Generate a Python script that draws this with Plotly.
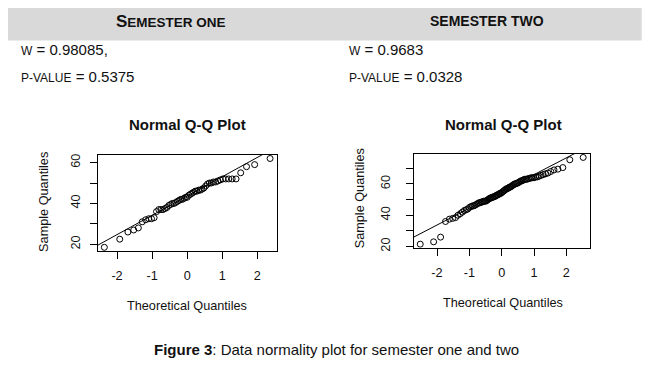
import plotly.graph_objects as go
import numpy as np
from statistics import NormalDist

# ---- data (sorted sample values) ----
sem1_values = [18.5, 22.5, 26, 27, 28, 31, 32, 32.5, 32.5, 33,
               36, 37, 37, 37, 37.5, 38, 39, 39.5, 40, 40,
               40.5, 41, 41.5, 42, 42, 42.5, 43, 43, 44, 44.5,
               45, 45.5, 46, 46, 46.5, 46.5, 47, 47.5, 48.5, 49.5,
               50, 50, 50.5, 50.5, 51, 51.5, 52, 52, 52, 52,
               52, 55, 58, 59, 62]
sem2_values = [21.5, 23, 26, 36, 37.5, 38, 38.5, 40, 41, 42,
               43, 43.5, 44, 45, 45.5, 46, 46, 46.5, 47, 47.5,
               48, 48, 48.5, 48.5, 49, 49, 49, 49.5, 50, 50.5,
               51, 51, 51.5, 51.5, 52, 52, 52.5, 53, 53, 53.5,
               54, 54, 54.5, 55, 55.5, 56, 56.5, 57, 57, 57.5,
               58, 58, 58.5, 59, 59.5, 60, 60, 60.5, 60.5, 61,
               61.5, 62, 62, 62.5, 63, 63, 63, 63.5, 63.5, 64,
               64, 64, 64.5, 64.5, 65, 65.5, 66, 66.5, 67, 68,
               69, 69.5, 70.5, 75.5, 77]

header_left = "<span style='font-size:17px'>S</span>EMESTER ONE"
header_right = "SEMESTER TWO"
w_left, p_left = "0.98085,", "0.5375"
w_right, p_right = "0.9683", "0.0328"
plot_title = "Normal Q-Q Plot"
x_title = "Theoretical Quantiles"
y_title = "Sample Quantiles"
caption = "<b>Figure 3</b>: Data normality plot for semester one and two"
x_ticks = [-2, -1, 0, 1, 2]
y_ticks_left = [20, 30, 40, 50, 60]
y_ticks_right = [20, 30, 40, 50, 60, 70]

# page body has an 8px margin: figure is placed at (8, 8) in the window
OFF = 8
W, H = 656 - OFF, 368 - OFF
FONT = "Liberation Sans, Arial, sans-serif"
nd = NormalDist()


def qq(values):
    v = np.sort(np.asarray(values, float))
    n = len(v)
    a = 3 / 8 if n <= 10 else 0.5
    p = (np.arange(1, n + 1) - a) / (n + 1 - 2 * a)
    t = np.array([nd.inv_cdf(pi) for pi in p])
    q1, q3 = np.percentile(v, [25, 75])
    z1, z3 = nd.inv_cdf(0.25), nd.inv_cdf(0.75)
    slope = (q3 - q1) / (z3 - z1)
    inter = q1 - slope * z1
    return t, v, slope, inter


def rrange(arr):
    lo, hi = float(np.min(arr)), float(np.max(arr))
    d = (hi - lo) * 0.04
    return [lo - d, hi + d]


def px_x(p):
    return (p - OFF) / W


def px_y(p):
    return 1 - (p - OFF) / H


fig = go.Figure()

panels = [
    dict(vals=sem1_values, xa="x", ya="y", dom_x=(97.7, 276.7), dom_y=(156, 253.3),
         yt=y_ticks_left, ystand=5),
    dict(vals=sem2_values, xa="x2", ya="y2", dom_x=(413.7, 589.7), dom_y=(155, 250),
         yt=y_ticks_right, ystand=11),
]

layout_axes = {}
for i, pn in enumerate(panels):
    t, v, slope, inter = qq(pn["vals"])
    xr = rrange(t)
    yr = rrange(v)
    fig.add_trace(go.Scatter(x=t, y=v, xaxis=pn["xa"], yaxis=pn["ya"], mode="markers",
                             marker=dict(symbol="circle-open", size=6, color="black",
                                         line=dict(width=1, color="black")),
                             showlegend=False, hoverinfo="skip"))
    lx = np.array(xr)
    fig.add_trace(go.Scatter(x=lx, y=inter + slope * lx, xaxis=pn["xa"], yaxis=pn["ya"],
                             mode="lines", line=dict(color="black", width=1),
                             showlegend=False, hoverinfo="skip"))
    sfx = "" if i == 0 else str(i + 1)
    layout_axes["xaxis" + sfx] = dict(
        domain=[px_x(pn["dom_x"][0]), px_x(pn["dom_x"][1])], range=xr,
        anchor="y" + sfx, tickvals=x_ticks, ticktext=[str(k) for k in x_ticks],
        ticks="outside", ticklen=7, tickwidth=1, tickcolor="black",
        showline=True, linecolor="black", linewidth=1, mirror=True,
        showgrid=False, zeroline=False, ticklabelstandoff=6,
        tickfont=dict(family=FONT, size=12.7, color="#111"))
    layout_axes["yaxis" + sfx] = dict(
        domain=[px_y(pn["dom_y"][1]), px_y(pn["dom_y"][0])], range=yr,
        anchor="x" + sfx, tickvals=pn["yt"],
        ticktext=[str(k) if k in (20, 40, 60) else "" for k in pn["yt"]],
        tickangle=-90, ticks="outside", ticklen=7, tickwidth=1, tickcolor="black",
        showline=True, linecolor="black", linewidth=1, mirror=True,
        showgrid=False, zeroline=False, ticklabelstandoff=pn["ystand"],
        tickfont=dict(family=FONT, size=12.7, color="#111"))

annotations = []


def ann(text, x, y, size, xanchor="center", textangle=0, bold=False):
    annotations.append(dict(text=("<b>%s</b>" % text) if bold else text,
                            x=px_x(x), y=px_y(y), xref="paper", yref="paper",
                            xanchor=xanchor, yanchor="middle", showarrow=False,
                            textangle=textangle,
                            font=dict(family=FONT, size=size, color="#111")))


# header
ann(header_left, 170.5, 21, 13.5, bold=True)
ann(header_right, 486.7, 20, 14, bold=True)
ann("W<span style='font-size:15px'> = %s</span>" % w_left, 19, 49.5, 12, xanchor="left")
ann("P-VALUE<span style='font-size:15px'> = %s</span>" % p_left, 19, 76, 12, xanchor="left")
ann("W<span style='font-size:15px'> = %s</span>" % w_right, 346.7, 49.5, 12, xanchor="left")
ann("P-VALUE<span style='font-size:15px'> = %s</span>" % p_right, 346.7, 76, 12, xanchor="left")

# panel texts
ann(plot_title, 187.5, 125, 15, bold=True)
ann(plot_title, 503.8, 125, 15, bold=True)
ann(x_title, 186.7, 309, 12.7)
ann(x_title, 502.5, 306, 12.7)
ann(y_title, 43.3, 203.3, 12.7, textangle=-90)
ann(y_title, 360, 200, 12.7, textangle=-90)

# caption
ann(caption, 336, 353, 15)

fig.update_layout(
    width=W, height=H, margin=dict(l=0, r=0, t=0, b=0),
    paper_bgcolor="white", plot_bgcolor="white",
    annotations=annotations,
    shapes=[dict(type="rect", xref="paper", yref="paper",
                 x0=px_x(8), x1=px_x(641.7), y0=px_y(40), y1=px_y(7),
                 fillcolor="#d9d9d9", line=dict(width=0), layer="below")],
    **layout_axes)

fig.write_html("out.html")
